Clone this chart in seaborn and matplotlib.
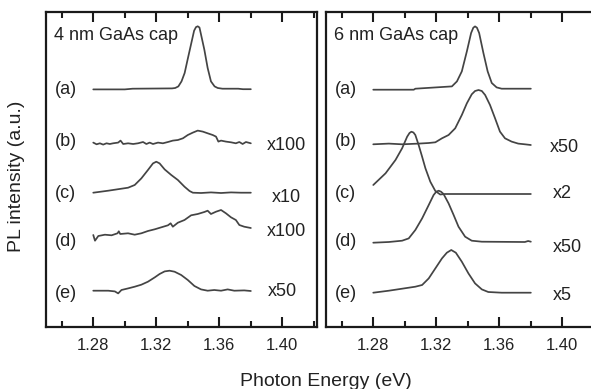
import numpy as np
import pandas as pd
import matplotlib
matplotlib.use("Agg")
import matplotlib.pyplot as plt
import seaborn as sns

# ---------------- data ----------------
panel_titles = ["4 nm GaAs cap", "6 nm GaAs cap"]
trace_labels = ["(a)", "(b)", "(c)", "(d)", "(e)"]
left_mult = ["", "x100", "x10", "x100", "x50"]
right_mult = ["", "x50", "x2", "x50", "x5"]
x_ticks = [1.28, 1.32, 1.36, 1.40]
x_minor = [1.26, 1.30, 1.34, 1.38, 1.42]

# left panel (4 nm cap)
L_a_E = [1.280, 1.300, 1.305, 1.330, 1.332, 1.334, 1.336, 1.338, 1.340, 1.342, 1.344,
         1.3452, 1.3463, 1.3474, 1.348, 1.3505, 1.3526, 1.3547, 1.357, 1.359, 1.362,
         1.372, 1.375, 1.380]
L_a_I = [-0.7, -0.7, 0, 0.3, 0.7, 2.3, 7.3, 15.7, 30, 44, 58,
         61.6, 62.4, 61.2, 57, 39, 20.7, 7.3, 2.3, 0.7, 0,
         0, -0.5, -0.5]

L_b_E = [1.2800, 1.2821, 1.2842, 1.2863, 1.2884, 1.2905, 1.2926, 1.2958, 1.2973, 1.2990,
         1.3021, 1.3053, 1.3084, 1.3116, 1.3137, 1.3158, 1.3179, 1.3211, 1.3242, 1.3274,
         1.3305, 1.3337, 1.3369, 1.3400, 1.3432, 1.3463, 1.3495, 1.3526, 1.3558, 1.3579,
         1.3594, 1.3611, 1.3642, 1.3674, 1.3705, 1.3727, 1.3748, 1.3769, 1.3800]
L_b_I = [0.7, -1, 0, -1.3, 0, -0.7, 0, 0.7, 2.7, -0.7,
         0, -0.7, 0, 1.3, -0.7, 0.7, -0.7, 0.7, 0, 1.3,
         2.7, 3.3, 5, 8.3, 10.7, 12.7, 11.7, 10, 8.3, 6.7,
         1.7, 2.7, 1.7, 1, 0, 1.3, -0.7, 1.3, 0]

L_c_E = [1.2800, 1.2895, 1.3021, 1.3063, 1.3105, 1.3147, 1.3179, 1.3200, 1.3221, 1.3253,
         1.3295, 1.3337, 1.3379, 1.3411, 1.3432, 1.3484, 1.3547, 1.3611, 1.3674, 1.3737, 1.3800]
L_c_I = [0, 2, 5, 7.7, 14.3, 22.7, 29.3, 31, 29.3, 23.3,
         17.7, 12.7, 6, 1.7, 0, -0.3, 0.3, -0.3, 0.3, 0, 0]

L_d_E = [1.2800, 1.2811, 1.2832, 1.2874, 1.2916, 1.2954, 1.2962, 1.2971, 1.3021, 1.3063,
         1.3105, 1.3147, 1.3190, 1.3232, 1.3274, 1.3291, 1.3305, 1.3337, 1.3379, 1.3421,
         1.3463, 1.3505, 1.3526, 1.3547, 1.3579, 1.3611, 1.3642, 1.3674, 1.3705, 1.3727,
         1.3758, 1.3800]
L_d_I = [1, -4.7, 0, 1.3, 0.7, 2.7, 4.7, 2, 2.7, 1.3,
         2.7, 5, 6.7, 8.7, 10.7, 12.7, 9.3, 13.3, 16, 20.7,
         22, 24, 25.3, 22, 24.3, 26, 22.7, 18.7, 16, 11,
         9.3, 8]

L_e_E = [1.2800, 1.2895, 1.2937, 1.2958, 1.2979, 1.3021, 1.3063, 1.3105, 1.3147, 1.3190,
         1.3221, 1.3253, 1.3284, 1.3316, 1.3358, 1.3400, 1.3442, 1.3484, 1.3526, 1.3568,
         1.3611, 1.3653, 1.3695, 1.3758, 1.3800]
L_e_I = [0, 0, -0.7, -2.7, 0.7, 2.3, 4, 6, 9, 13.3,
         16.7, 19.3, 20, 19, 15.7, 10.7, 4.7, 1.3, 0, 0.7,
         0, 1.3, 0, 0.3, -0.3]

# right panel (6 nm cap)
R_a_E = [1.280, 1.3057, 1.3067, 1.3299, 1.3331, 1.3362, 1.3394, 1.3421, 1.3435, 1.3446,
         1.3458, 1.3472, 1.3499, 1.3526, 1.3552, 1.3583, 1.3615, 1.380]
R_a_I = [-1, -1, 0, 2.3, 7.3, 17.3, 37.3, 55.7, 61, 62.3,
         61, 55.7, 35.7, 17.3, 5.7, 1.3, 0, 0]

R_b_E = [1.280, 1.2899, 1.2983, 1.3088, 1.3152, 1.3194, 1.3236, 1.3278, 1.3320, 1.3362,
         1.3394, 1.3425, 1.3446, 1.3468, 1.3489, 1.3510, 1.3541, 1.3573, 1.3604, 1.3636,
         1.3678, 1.3720, 1.3762, 1.380]
R_b_I = [0, 0.7, 0, 0.7, 1.3, 2, 6, 9.3, 16, 29.3,
         41, 50, 53.3, 54.3, 53.3, 49.3, 39.3, 26, 12.7, 6,
         2.7, 0.7, 0, -0.7]

R_c_E = [1.280, 1.2878, 1.2941, 1.2983, 1.3015, 1.3030, 1.3042, 1.3055, 1.3067, 1.3088,
         1.3110, 1.3131, 1.3162, 1.3194, 1.3225, 1.3257, 1.380]
R_c_I = [9, 20.7, 34, 45.7, 57.3, 61, 62.3, 61.5, 59, 49,
         37.3, 25.7, 12.3, 3, -0.5, 0, 0]

R_d_E = [1.280, 1.2899, 1.2983, 1.3025, 1.3067, 1.3110, 1.3152, 1.3183, 1.3200, 1.3215,
         1.3230, 1.3246, 1.3278, 1.3310, 1.3341, 1.3383, 1.3425, 1.3489, 1.3762, 1.3783, 1.380]
R_d_I = [-1, -0.3, 1, 3.3, 11.7, 23.3, 36.7, 46.7, 50, 51,
         50, 47.7, 38.3, 26.7, 15, 5, 1, 0, -0.3, 0.7, 0]

R_e_E = [1.280, 1.2899, 1.2983, 1.3067, 1.3110, 1.3152, 1.3194, 1.3236, 1.3267, 1.3295,
         1.3324, 1.3362, 1.3404, 1.3446, 1.3489, 1.3530, 1.3615, 1.380]
R_e_I = [0, 2, 4, 6, 7.7, 14.3, 24.3, 34.3, 40, 42.7,
         40, 31, 19.3, 9.3, 3.3, 0.7, 0, 0]

left_offsets = [238.3, 183.7, 134.3, 91.0, 36.3]
right_offsets = [238.3, 182.7, 133.0, 85.3, 34.3]
label_y_left = [238, 185, 134, 85, 34]
label_y_right = [238, 186, 134, 85, 34]
mult_y_left = [0, 182, 130, 95, 35]
mult_y_right = [0, 179, 133, 80, 31]
mult_x_left = [0, 1.390, 1.393, 1.390, 1.3905]
mult_x_right = [0, 1.392, 1.394, 1.394, 1.394]

left_curves = [(L_a_E, L_a_I), (L_b_E, L_b_I), (L_c_E, L_c_I), (L_d_E, L_d_I), (L_e_E, L_e_I)]
right_curves = [(R_a_E, R_a_I), (R_b_E, R_b_I), (R_c_E, R_c_I), (R_d_E, R_d_I), (R_e_E, R_e_I)]

# ---------------- styling ----------------
sns.set_theme(style="ticks")
plt.rcParams["font.family"] = ["Liberation Sans", "DejaVu Sans"]
plt.rcParams["text.color"] = "#222222"
plt.rcParams["xtick.direction"] = "in"
plt.rcParams["xtick.top"] = True
plt.rcParams["xtick.bottom"] = True

W, H = 591, 389
fig = plt.figure(figsize=(W / 100, H / 100), dpi=100)
fig.patch.set_facecolor("white")

ax_l = fig.add_axes([46 / W, 62 / H, 271 / W, 315 / H])
ax_r = fig.add_axes([326 / W, 62 / H, 271 / W, 315 / H])

line_color = "#444444"
for ax, curves, offs, lab_y, mults, mx, my, title in [
    (ax_l, left_curves, left_offsets, label_y_left, left_mult, mult_x_left, mult_y_left, panel_titles[0]),
    (ax_r, right_curves, right_offsets, label_y_right, right_mult, mult_x_right, mult_y_right, panel_titles[1]),
]:
    for (E, I), off in zip(curves, offs):
        df = pd.DataFrame({"E": E, "I": np.asarray(I) + off})
        sns.lineplot(data=df, x="E", y="I", ax=ax, color=line_color, linewidth=1.25,
                     estimator=None, sort=False)
    for lbl, y in zip(trace_labels, lab_y):
        ax.text(1.2555, y, lbl, fontsize=13, ha="left", va="center", color="#222222")
    for m, x, y in zip(mults, mx, my):
        if m:
            ax.text(x, y, m, fontsize=13, ha="left", va="center", color="#222222")
    ax.text(1.2548, 291, title, fontsize=13, ha="left", va="center", color="#222222")

    ax.set_xlim(1.25, 1.422)
    ax.set_ylim(0, 315)
    ax.set_xticks(x_ticks)
    ax.set_xticklabels([f"{t:.2f}" for t in x_ticks])
    ax.set_xticks(x_minor, minor=True)
    ax.set_yticks([])
    ax.set_xlabel("")
    ax.set_ylabel("")
    ax.tick_params(axis="x", which="major", direction="in", length=7.5, width=1.5,
                   top=True, bottom=True, labelsize=12, pad=8,
                   color="#1a1a1a", labelcolor="#222222")
    ax.tick_params(axis="x", which="minor", direction="in", length=4.2, width=1.5,
                   top=True, bottom=True, color="#1a1a1a")
    for s in ax.spines.values():
        s.set_visible(True)
        s.set_linewidth(1.6)
        s.set_color("#1a1a1a")
    ax.set_facecolor("white")

fig.text(17 / W, 1 - 176 / H, "PL intensity (a.u.)", rotation=90, ha="center", va="center",
         fontsize=14, color="#222222")
fig.text(326 / W, 1 - 381 / H, "Photon Energy (eV)", ha="center", va="center",
         fontsize=14, color="#222222")

fig.savefig("out.png", dpi=100, facecolor="white")
